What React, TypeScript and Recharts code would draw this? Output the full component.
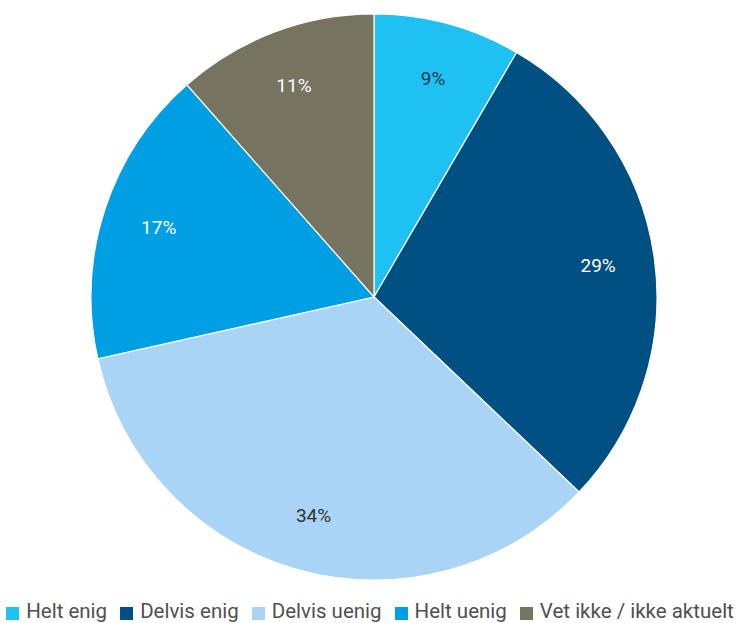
import { PieChart, Pie, Cell, Legend } from "recharts";

const categories = ["Helt enig", "Delvis enig", "Delvis uenig", "Helt uenig", "Vet ikke / ikke aktuelt"];
const shares = [8.4, 28.7, 34.4, 17.0, 11.5];
const shareLabels = ["9%", "29%", "34%", "17%", "11%"];
const colors = ["#1EC1F2", "#005083", "#A9D4F5", "#009FE3", "#767360"];
const labelColors = ["#1d3a4c", "#ffffff", "#333333", "#ffffff", "#ffffff"];

const data = categories.map((name, i) => ({ name, value: shares[i] }));

const RAD = Math.PI / 180;

const renderLabel = (props: any) => {
  const { cx, cy, midAngle, outerRadius, index } = props;
  const r = outerRadius * 0.8;
  const x = cx + r * Math.cos(-midAngle * RAD);
  const y = cy + r * Math.sin(-midAngle * RAD);
  return (
    <text x={x} y={y} fill={labelColors[index]} textAnchor="middle" dominantBaseline="central" fontSize={19} fontFamily="Roboto">
      {shareLabels[index]}
    </text>
  );
};

const renderLegend = () => (
  <div style={{ display: "flex", justifyContent: "center", gap: 13, fontFamily: "Roboto", fontSize: 20.5, lineHeight: "23px", color: "#505050", whiteSpace: "nowrap" }}>
    {categories.map((c, i) => (
      <span key={c} style={{ display: "flex", alignItems: "center" }}>
        <span style={{ width: 13, height: 13, background: colors[i], marginRight: 7, display: "inline-block", transform: "translateY(2px)" }} />
        {c}
      </span>
    ))}
  </div>
);

export default function App() {
  return (
    <div style={{ position: "absolute", left: 0, top: 0 }}>
      <PieChart width={740} height={623} margin={{ top: 0, right: 0, bottom: 0, left: 0 }}>
        <Pie
          data={data}
          dataKey="value"
          nameKey="name"
          cx={374}
          cy={297}
          outerRadius={283}
          startAngle={90}
          endAngle={-270}
          stroke="#ffffff"
          strokeWidth={1.2}
          labelLine={false}
          label={renderLabel}
          isAnimationActive={false}
        >
          {data.map((d, i) => (
            <Cell key={d.name} fill={colors[i]} />
          ))}
        </Pie>
        <Legend verticalAlign="bottom" content={renderLegend} wrapperStyle={{ bottom: 0, left: 0, width: 740 }} />
      </PieChart>
    </div>
  );
}
